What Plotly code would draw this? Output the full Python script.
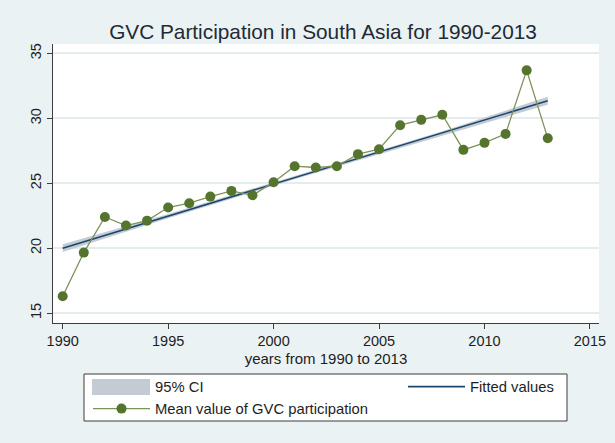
import plotly.graph_objects as go

# Mean GVC participation, South Asia
years = list(range(1990, 2014))
gvc_mean = [16.3, 19.66, 22.4, 21.74, 22.12, 23.13, 23.46, 23.97, 24.41, 24.07,
            25.08, 26.31, 26.21, 26.31, 27.24, 27.62, 29.47, 29.88, 30.27, 27.57,
            28.11, 28.8, 33.69, 28.47]

# Fitted values and 95% CI
fit_years = [1990, 2013]
fit_vals = [20.0, 31.35]
ci_years = [1990, 1995, 2001.5, 2008, 2013]
ci_lower = [19.7, 22.3, 25.56, 28.66, 31.05]
ci_upper = [20.3, 22.64, 25.8, 29.0, 31.65]

x_ticks = [1990, 1995, 2000, 2005, 2010, 2015]
y_ticks = [15, 20, 25, 30, 35]

BG = '#EAF2F3'
AXIS = '#3C3C3C'
CI_COLOR = '#C4CBD3'
FONT = 'Liberation Sans, Arial, sans-serif'

# plot area in pixels: x 53..599, y 44..323
def px_x(p):
    return (p - 53) / 546


def px_y(p):
    return (323 - p) / 279


fig = go.Figure()

fig.add_trace(go.Scatter(
    x=ci_years + ci_years[::-1],
    y=ci_upper + ci_lower[::-1],
    fill='toself',
    fillcolor=CI_COLOR,
    line=dict(width=0, color=CI_COLOR),
    mode='lines',
    name='95% CI',
    legend='legend',
    hoverinfo='skip'
))

fig.add_trace(go.Scatter(
    x=fit_years, y=fit_vals,
    mode='lines',
    line=dict(color='#1A476F', width=1.6),
    name='Fitted values',
    legend='legend2'
))

fig.add_trace(go.Scatter(
    x=years, y=gvc_mean,
    mode='lines+markers',
    line=dict(color='#7F915A', width=1.3),
    marker=dict(color='#55752F', size=10),
    name='Mean value of GVC participation',
    legend='legend3'
))

leg_common = dict(
    xanchor='left', yanchor='middle',
    bgcolor='rgba(0,0,0,0)', borderwidth=0,
    itemwidth=57,
    font=dict(size=14.8, color='#1E1E1E'),
)

fig.update_layout(
    width=615, height=443,
    paper_bgcolor=BG,
    plot_bgcolor='#FFFFFF',
    margin=dict(l=53, r=16, t=44, b=120, autoexpand=False),
    font=dict(family=FONT, size=14.5, color='#1E1E1E'),
    title=dict(
        text='GVC Participation in South Asia for 1990-2013',
        x=323 / 615, xanchor='center', y=1 - 32 / 443, yanchor='middle',
        font=dict(size=20.8, color='#1F2A36')
    ),
    showlegend=True,
    legend=dict(x=px_x(88), y=px_y(387), **leg_common),
    legend2=dict(x=px_x(403), y=px_y(387), **leg_common),
    legend3=dict(x=px_x(88), y=px_y(409), **leg_common),
    shapes=[
        # legend frame
        dict(type='rect', xref='paper', yref='paper',
             x0=px_x(84), x1=px_x(567), y0=px_y(421), y1=px_y(374),
             fillcolor='#FFFFFF', line=dict(color='#3C3C3C', width=1),
             layer='above'),
        # taller CI key
        dict(type='rect', xref='paper', yref='paper',
             x0=px_x(92), x1=px_x(150), y0=px_y(395), y1=px_y(379),
             fillcolor=CI_COLOR, line=dict(width=0),
             layer='above'),
    ],
    xaxis=dict(
        range=[1989.54, 2015.43],
        tickvals=x_ticks,
        showgrid=False,
        zeroline=False,
        showline=True, linecolor=AXIS, linewidth=1,
        ticks='outside', ticklen=5, tickcolor=AXIS,
        tickfont=dict(size=14.5),
        title=dict(text='years from 1990 to 2013', standoff=5,
                   font=dict(size=15)),
    ),
    yaxis=dict(
        range=[14.24, 35.72],
        tickvals=y_ticks,
        tickangle=-90,
        showgrid=True, gridcolor='#E4ECEE', gridwidth=1.5,
        zeroline=False,
        showline=True, linecolor=AXIS, linewidth=1,
        ticks='outside', ticklen=5, tickcolor=AXIS,
        tickfont=dict(size=14.5),
    )
)

fig.write_html('out.html', config={'displayModeBar': False},
               post_script="document.body.style.margin='0px';")
